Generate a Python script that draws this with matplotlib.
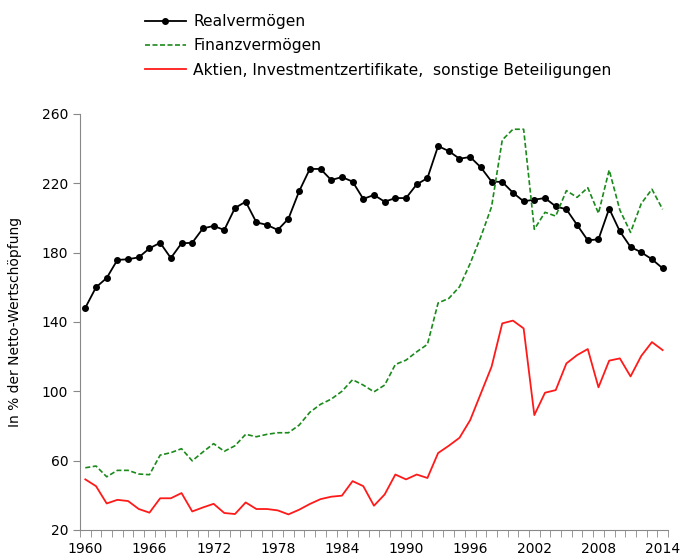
import numpy as np
import matplotlib
matplotlib.use('Agg')
import matplotlib.pyplot as plt
from matplotlib.ticker import MultipleLocator

years = np.arange(1960, 2015)

realvermoegen = [148.2, 160.0, 165.4, 175.8, 176.2, 177.3, 182.5, 185.7, 176.9, 185.4,
                 185.7, 194.0, 195.4, 193.1, 205.8, 209.4, 197.5, 196.0, 193.1, 199.6,
                 215.4, 228.3, 228.3, 221.9, 223.6, 221.0, 211.0, 213.3, 209.4, 211.5,
                 211.5, 219.4, 223.0, 241.5, 238.6, 234.2, 235.2, 229.2, 221.0, 220.8,
                 214.6, 209.6, 210.6, 211.5, 206.7, 205.0, 196.0, 187.1, 187.7, 205.4,
                 192.3, 183.3, 180.2, 176.2, 171.0]

finanzvermoegen = [55.9, 56.9, 50.7, 54.4, 54.4, 52.3, 51.9, 63.2, 64.6, 66.9,
                   59.9, 65.0, 69.8, 65.4, 68.6, 75.2, 73.8, 75.2, 76.1, 76.1,
                   80.5, 87.9, 92.5, 95.5, 100.0, 106.7, 103.6, 99.7, 103.6, 115.5,
                   118.0, 122.8, 127.1, 151.0, 153.6, 160.3, 173.8, 189.2, 206.5, 245.0,
                   251.2, 251.2, 193.5, 203.3, 201.1, 215.8, 211.9, 217.5, 202.7, 227.7,
                   204.6, 191.7, 208.3, 216.6, 205.0]

aktien = [49.2, 45.3, 35.3, 37.4, 36.7, 32.1, 30.0, 38.3, 38.3, 41.3,
          30.7, 33.0, 35.1, 29.8, 29.2, 35.9, 32.1, 32.1, 31.3, 29.0,
          31.7, 35.0, 37.8, 39.2, 39.8, 48.2, 45.3, 34.0, 40.5, 52.0,
          49.2, 52.0, 50.0, 64.4, 68.6, 73.2, 83.4, 98.8, 114.2, 139.2,
          140.8, 136.3, 86.3, 99.2, 100.7, 116.1, 120.9, 124.4, 102.3, 117.7,
          119.0, 108.6, 120.4, 128.4, 123.8]

xtick_years = [1960, 1966, 1972, 1978, 1984, 1990, 1996, 2002, 2008, 2014]

plt.rcParams['font.family'] = ['DejaVu Sans']
fig = plt.figure(figsize=(6.8, 5.58), dpi=100)
ax = fig.add_axes([0.1176, 0.0502, 0.8647, 0.7455])

l1, = ax.plot(years, realvermoegen, color='black', linewidth=1.3, marker='o',
              markersize=4, label='Realvermögen')
l2, = ax.plot(years, finanzvermoegen, color='#1a8a1a', linewidth=1.2,
              linestyle=(0, (3, 1.5)), label='Finanzvermögen')
l3, = ax.plot(years, aktien, color='#ff1a1a', linewidth=1.3,
              label='Aktien, Investmentzertifikate,  sonstige Beteiligungen')

ax.set_xlim(1959.5, 2014.5)
ax.set_ylim(20, 260)
ax.set_yticks(range(20, 261, 40))
ax.set_xticks(xtick_years)
ax.xaxis.set_minor_locator(MultipleLocator(1, offset=0.5))
ax.tick_params(axis='x', which='major', length=0, labelsize=10, pad=9)
ax.tick_params(axis='x', which='minor', length=5, color='#888888')
ax.tick_params(axis='y', length=5, color='#888888', labelsize=10)

for s in ['top', 'right']:
    ax.spines[s].set_visible(False)
for s in ['left', 'bottom']:
    ax.spines[s].set_color('#888888')

ax.set_ylabel('In % der Netto-Wertschöpfung', fontsize=10)
ax.yaxis.set_label_coords(-0.098, 0.5)

fig.legend(handles=[l1, l2, l3], loc='upper left', bbox_to_anchor=(0.193, 1.0),
           frameon=False, fontsize=11.2, handlelength=2.6, numpoints=1,
           labelspacing=0.6, handletextpad=0.5)

plt.savefig('out.png', dpi=100)
